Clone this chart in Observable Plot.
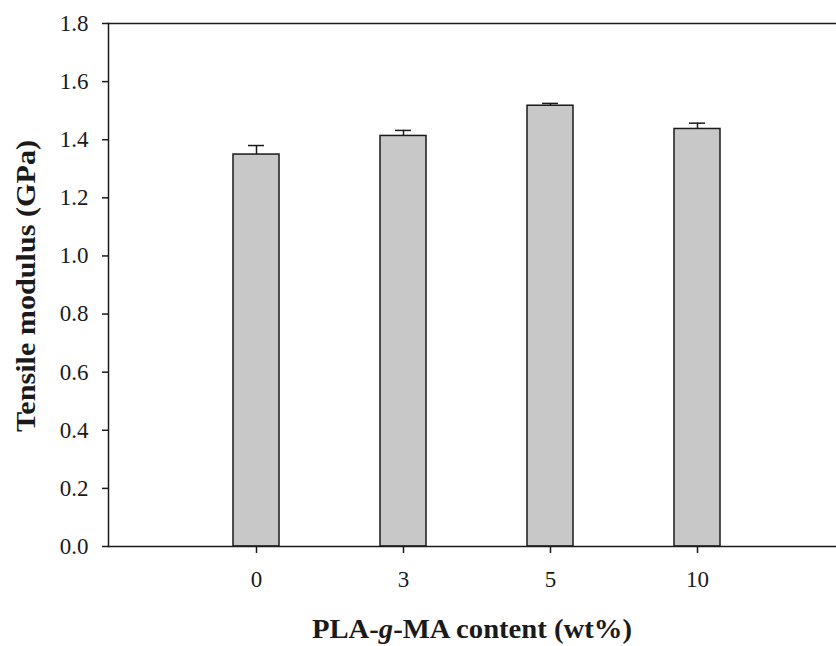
<!DOCTYPE html>
<html><head><meta charset="utf-8">
<script src="https://cdn.jsdelivr.net/npm/d3@7"></script>
<script src="https://cdn.jsdelivr.net/npm/@observablehq/plot@0.6"></script>
<style>html,body{margin:0;padding:0;background:#fff;overflow:hidden}</style>
</head><body><div id="chart"></div>
<script>
const categories = ["0", "3", "5", "10"];
const modulus = [1.349, 1.413, 1.517, 1.437];
const errors = [0.031, 0.019, 0.008, 0.020];
const yTicks = [0, 0.2, 0.4, 0.6, 0.8, 1.0, 1.2, 1.4, 1.6, 1.8];
const xTitleParts = ["PLA-", "g", "-MA content (wt%)"];
const yTitle = "Tensile modulus (GPa)";

const data = categories.map((c, i) => ({c, v: modulus[i], top: modulus[i] + errors[i]}));
const ink = "#1a1a1a";

const svg = Plot.plot({
  width: 836, height: 646,
  marginLeft: 108, marginRight: 0, marginTop: 23, marginBottom: 100,
  style: {fontFamily: "'Liberation Serif', serif", fontSize: "22px", color: ink, background: "white"},
  x: {type: "band", domain: categories, range: [108, 845], paddingInner: 0.687, paddingOuter: 0.85, label: null},
  y: {domain: [0, 1.8], label: null},
  marks: [
    Plot.barY(data, {x: "c", y: "v", fill: "#c8c8c8", stroke: ink, strokeWidth: 1.5}),
    Plot.ruleX(data, {x: "c", y1: "v", y2: "top", stroke: ink, strokeWidth: 1.5}),
    Plot.tickY(data, {x: "c", y: "top", insetLeft: 15, insetRight: 15, stroke: ink, strokeWidth: 1.5}),
    Plot.frame({anchor: "left", stroke: ink, strokeWidth: 1.5}),
    Plot.ruleY([0, 1.8], {stroke: ink, strokeWidth: 1.5}),
    Plot.axisY({ticks: yTicks, tickFormat: d => d.toFixed(1), tickSize: 6, tickPadding: 14, strokeWidth: 1.5, fontSize: 23, label: null}),
    Plot.axisX({tickSize: 7, tickPadding: 17, strokeWidth: 1.5, fontSize: 23, label: null})
  ]
});
document.getElementById("chart").appendChild(svg);

const s = d3.select(svg);
const xt = s.append("text")
  .attr("x", 472).attr("y", 638)
  .attr("text-anchor", "middle")
  .attr("font-family", "'Liberation Serif', serif")
  .attr("font-weight", "bold").attr("font-size", 27)
  .attr("fill", ink)
  .attr("textLength", 320).attr("lengthAdjust", "spacingAndGlyphs");
xt.append("tspan").text(xTitleParts[0]);
xt.append("tspan").attr("font-style", "italic").text(xTitleParts[1]);
xt.append("tspan").text(xTitleParts[2]);

s.append("text")
  .attr("transform", "translate(35,286) rotate(-90)")
  .attr("text-anchor", "middle")
  .attr("font-family", "'Liberation Serif', serif")
  .attr("font-weight", "bold").attr("font-size", 27)
  .attr("fill", ink)
  .attr("textLength", 292).attr("lengthAdjust", "spacingAndGlyphs")
  .text(yTitle);
</script>
</body></html>
